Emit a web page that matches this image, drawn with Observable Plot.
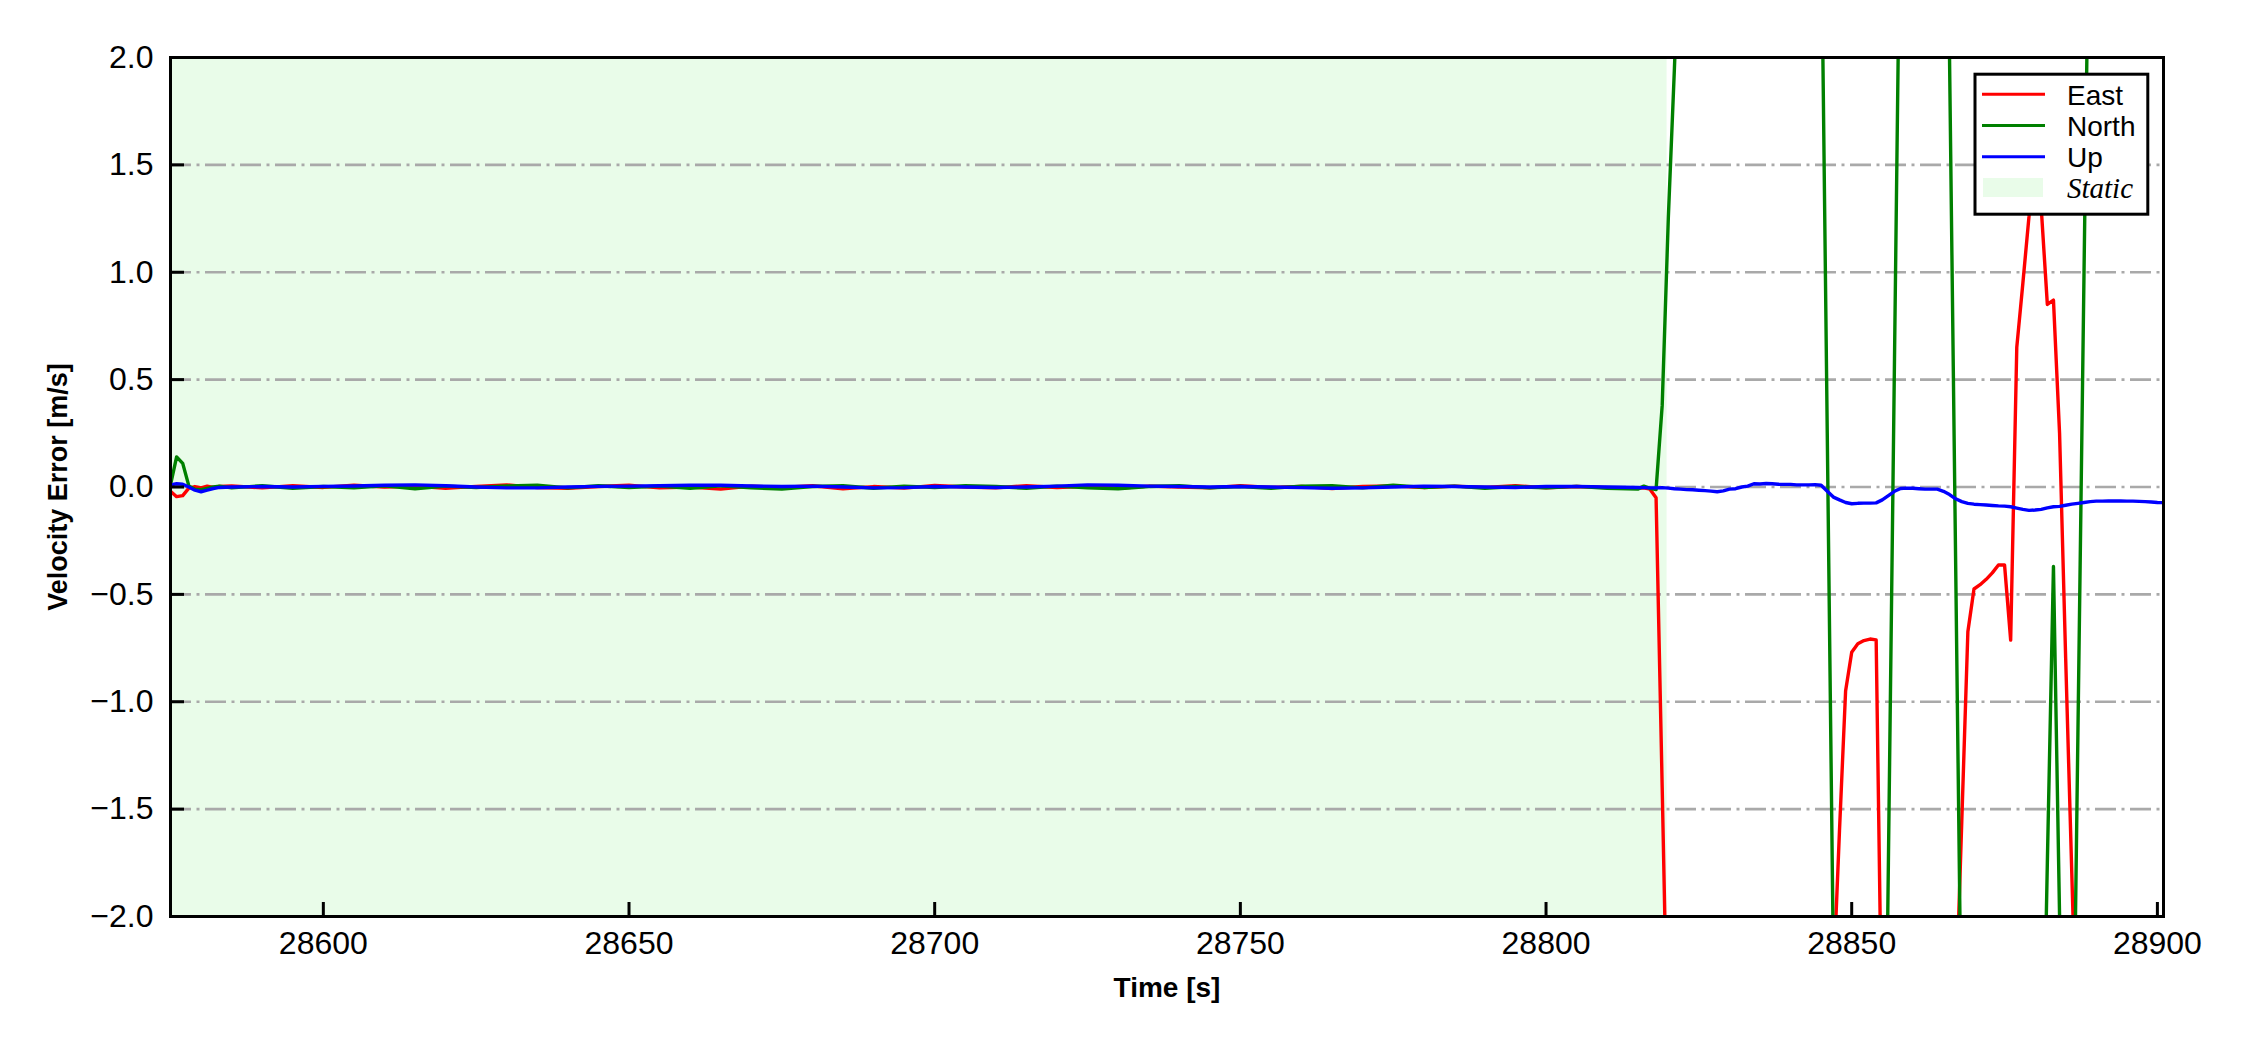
<!DOCTYPE html>
<html><head><meta charset="utf-8">
<script src="https://cdn.jsdelivr.net/npm/d3@7"></script>
<script src="https://cdn.jsdelivr.net/npm/@observablehq/plot@0.6"></script>
<style>
html,body{margin:0;padding:0;background:#fff;}
#chart{position:relative;width:2250px;height:1050px;}
</style></head><body><div id="chart"></div>
<script>
const time = [
28575,28576,28577,28578,28579,28580,28581,28582,28583,
28585,28590,28595,28600,28605,28610,28615,28620,28625,28630,
28635,28640,28645,28650,28655,28660,28665,28670,28675,28680,
28685,28690,28695,28700,28705,28710,28715,28720,28725,28730,
28735,28740,28745,28750,28755,28760,28765,28770,28775,28780,
28785,28790,28795,28800,28805,28810,28815,
28816,28817,28818,28819,28820,28821,28822,28823,28824,28825,
28826,28827,28828,28829,28830,28831,28832,28833,28834,28835,
28836,28837,28838,28839,28840,28841,28842,28843,28844,28845,
28846,28847,28848,28849,28850,28851,28852,28853,28854,28855,
28856,28857,28858,28859,28860,28861,28862,28863,28864,28865,
28866,28867,28868,28869,28870,28871,28872,28873,28874,28875,
28876,28877,28878,28879,28880,28881,28882,28883,28884,28885,
28886,28887,28888,28889,28890,28891,28892,28893,28894,28895,
28896,28897,28898,28899,28900,28901];

const east = [
-0.02,-0.045,-0.04,-0.005,0.002,-0.004,0.004,-0.002,0.003,
0.005,-0.004,0.006,-0.002,0.008,0.000,0.004,-0.006,0.003,0.010,
-0.003,-0.006,0.002,0.008,-0.004,0.000,-0.010,0.004,-0.002,0.006,
-0.008,0.002,-0.005,0.007,0.000,-0.004,0.006,-0.002,0.003,-0.006,
0.004,0.000,-0.004,0.006,-0.002,0.003,-0.007,0.002,0.005,-0.003,
0.004,-0.002,0.006,-0.004,0.002,-0.003,-0.006,
-0.004,-0.01,-0.05,-1.4,-2.8,-3.5,-3.5,-3.5,-3.5,-3.5,
-3.5,-3.5,-3.5,-3.5,-3.5,-3.5,-3.5,-3.5,-3.5,-3.5,
-3.5,-3.5,-3.5,-3.5,-3.5,-3.5,-3.5,-3.5,-3.5,-3.5,
-3.5,-2.3,-1.6,-0.95,-0.77,-0.73,-0.715,-0.708,-0.712,-2.7,
-3.5,-3.5,-3.5,-3.5,-3.5,-3.5,-3.5,-3.5,-3.5,-3.5,
-3.5,-2.44,-1.56,-0.674,-0.475,-0.455,-0.43,-0.40,-0.363,-0.363,
-0.713,0.65,0.95,1.26,1.7,1.3,0.85,0.87,0.25,-0.8,
-1.8,-2.8,-3.5,-3.5,-3.5,-3.5,-3.5,-3.5,-3.5,-3.5,
-3.5,-3.5,-3.5,-3.5,-3.5,-3.5];

const north = [
0.01,0.14,0.11,0.005,-0.01,-0.012,-0.006,0.0,0.004,
-0.004,0.006,-0.006,0.002,-0.004,0.006,-0.008,0.004,-0.002,0.005,
0.008,-0.004,0.006,-0.002,0.004,-0.006,0.006,-0.004,-0.010,0.002,
0.006,-0.006,0.004,-0.002,0.006,0.002,-0.006,0.004,-0.004,-0.008,
0.002,0.006,-0.004,0.002,-0.006,0.004,0.006,-0.004,0.008,-0.002,
0.004,-0.006,0.002,-0.004,0.003,-0.006,-0.010,
0.004,-0.006,-0.012,0.38,1.25,1.95,2.7,3.5,3.5,3.5,
3.5,3.5,3.5,3.5,3.5,3.5,3.5,3.5,3.5,3.5,
3.5,3.5,3.5,3.5,3.5,3.5,3.5,3.5,3.5,2.7,
0.25,-2.2,-4.5,-4.5,-4.5,-4.5,-4.5,-4.5,-4.5,-4.1,
-1.75,0.6,2.95,4.5,4.5,4.5,4.5,4.5,4.5,4.5,
2.0,-0.35,-2.7,-4,-4,-4,-4,-4,-4,-4,
-4,-4,-4,-4,-4,-3.2,-1.75,-0.37,-2.0,-3.5,
-3.3,-1.15,1.0,3.15,4,4,4,4,4,4,
4,4,4,4,4,4];

const up = [
0.01,0.015,0.013,0.0,-0.015,-0.022,-0.015,-0.007,-0.002,
0.000,0.002,0.000,0.003,0.005,0.008,0.010,0.006,0.000,-0.004,
-0.004,0.000,0.003,0.004,0.006,0.008,0.008,0.005,0.002,0.004,
0.000,-0.004,-0.003,0.002,0.000,-0.002,0.000,0.004,0.010,0.008,
0.004,0.002,0.000,0.002,0.000,-0.003,-0.006,-0.004,0.000,0.004,
0.002,0.000,-0.002,0.002,0.003,0.000,-0.002,
-0.003,-0.004,-0.004,-0.003,-0.005,-0.008,-0.010,-0.012,-0.013,-0.015,
-0.017,-0.019,-0.022,-0.018,-0.010,-0.008,0.000,0.004,0.015,0.014,
0.016,0.015,0.013,0.012,0.012,0.010,0.010,0.010,0.011,0.008,
-0.020,-0.047,-0.060,-0.072,-0.078,-0.076,-0.075,-0.075,-0.074,-0.060,
-0.040,-0.020,-0.007,-0.005,-0.006,-0.008,-0.010,-0.010,-0.010,-0.020,
-0.035,-0.055,-0.068,-0.076,-0.080,-0.082,-0.084,-0.086,-0.088,-0.089,
-0.092,-0.098,-0.104,-0.109,-0.107,-0.104,-0.097,-0.092,-0.090,-0.085,
-0.080,-0.076,-0.072,-0.068,-0.066,-0.066,-0.065,-0.065,-0.065,-0.066,
-0.066,-0.067,-0.068,-0.070,-0.072,-0.073];

const seriesNames = ["East", "North", "Up"];
const seriesColors = ["#ff0000", "#008000", "#0000ff"];
const staticLabel = "Static";
const staticStart = 28575;
const staticEnd = 28819.8;
const xDomain = [28575, 28901];
const yDomain = [-2, 2];
const xTicks = [28600, 28650, 28700, 28750, 28800, 28850, 28900];
const yTicks = [-2, -1.5, -1, -0.5, 0, 0.5, 1, 1.5, 2];
const gridTicks = [-1.5, -1, -0.5, 0, 0.5, 1, 1.5];
const xLabel = "Time [s]";
const yLabel = "Velocity Error [m/s]";

const W = 2250, H = 1050, mL = 170, mR = 87, mT = 57, mB = 134;
const frameW = W - mL - mR, frameH = H - mT - mB, tickLen = 14;

const rows = [];
[east, north, up].forEach((vals, i) => vals.forEach((v, j) => rows.push({t: time[j], v, s: seriesNames[i]})));

const fmtY = d => (d < 0 ? "\u2212" : "") + Math.abs(d).toFixed(1);

const chart = Plot.plot({
  width: W, height: H,
  marginLeft: mL, marginRight: mR, marginTop: mT, marginBottom: mB,
  style: {fontFamily: "'Liberation Sans', Arial, sans-serif", fontSize: "32px", background: "white", color: "black", overflow: "visible"},
  x: {domain: xDomain, axis: null},
  y: {domain: yDomain, axis: null},
  color: {domain: seriesNames, range: seriesColors},
  marks: [
    Plot.rect([{x1: staticStart, x2: staticEnd}], {x1: "x1", x2: "x2", fill: "#e9fce9"}),
    Plot.gridY(gridTicks, {stroke: "#a9a9a9", strokeOpacity: 1, strokeWidth: 2.6, strokeDasharray: "21,5.5,3,5.5"}),
    Plot.line(rows, {x: "t", y: "v", z: "s", stroke: "s", strokeWidth: 3.4, clip: true}),
    Plot.axisX(xTicks, {tickSize: 0, tickPadding: 15, tickFormat: d3.format("d"), label: null, fontSize: 32}),
    Plot.axisY(yTicks, {tickSize: 0, tickPadding: 17, tickFormat: fmtY, label: null, fontSize: 32}),
    Plot.tickX(xTicks, {x: d => d, insetTop: frameH - tickLen, stroke: "black", strokeWidth: 3}),
    Plot.tickY(yTicks, {y: d => d, insetRight: frameW - tickLen, stroke: "black", strokeWidth: 3}),
    Plot.text([xLabel], {text: d => d, frameAnchor: "bottom", lineAnchor: "middle", textAnchor: "middle", dy: 72, fontWeight: "bold", fontSize: 28}),
    Plot.text([yLabel], {text: d => d, frameAnchor: "left", lineAnchor: "middle", textAnchor: "middle", dx: -112, rotate: -90, fontWeight: "bold", fontSize: 27}),
    Plot.frame({stroke: "black", strokeWidth: 3})
  ]
});
document.getElementById("chart").appendChild(chart);

// Legend (inside the axes, upper right)
const svg = d3.select(chart);
const lg = svg.append("g").attr("text-anchor", "start");
lg.append("rect").attr("x", 1975).attr("y", 74.2).attr("width", 172.8).attr("height", 140)
  .attr("fill", "white").attr("stroke", "black").attr("stroke-width", 3);
const rowY = [94.3, 125.5, 156.7, 187.6];
seriesNames.forEach((name, i) => {
  lg.append("line").attr("x1", 1982).attr("x2", 2045).attr("y1", rowY[i]).attr("y2", rowY[i])
    .attr("stroke", seriesColors[i]).attr("stroke-width", 3);
  lg.append("text").attr("x", 2067).attr("y", rowY[i] + 10.3).text(name).attr("text-anchor", "start")
    .attr("font-family", "'Liberation Sans', Arial, sans-serif").attr("font-size", 28).attr("fill", "black");
});
lg.append("rect").attr("x", 1983).attr("y", 178).attr("width", 60).attr("height", 19).attr("fill", "#e9fce9");
lg.append("text").attr("x", 2067).attr("y", rowY[3] + 10).text(staticLabel).attr("text-anchor", "start")
  .attr("font-family", "'Liberation Serif', 'Times New Roman', serif").attr("font-style", "italic")
  .attr("font-size", 29).attr("fill", "black");
</script>
</body></html>
